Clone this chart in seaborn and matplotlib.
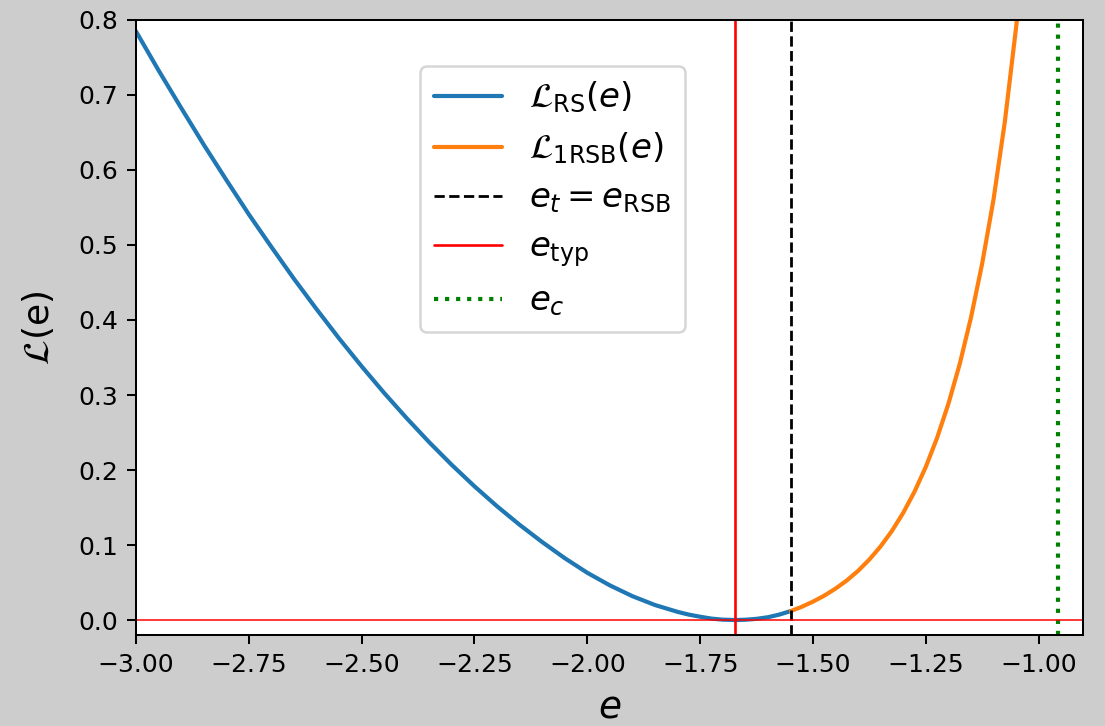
import numpy as np
import pandas as pd
import matplotlib
matplotlib.use("Agg")
import matplotlib.pyplot as plt
import seaborn as sns

# ---- data ----
e_rs = [-3.00, -2.95, -2.90, -2.85, -2.80, -2.75, -2.70, -2.65, -2.60, -2.55,
        -2.50, -2.45, -2.40, -2.35, -2.30, -2.25, -2.20, -2.15, -2.10, -2.05,
        -2.00, -1.95, -1.90, -1.85, -1.80, -1.775, -1.75, -1.725, -1.70, -1.673,
        -1.65, -1.625, -1.60, -1.575, -1.549]
L_rs = [0.785, 0.733, 0.683, 0.634, 0.587, 0.541, 0.4975, 0.455, 0.4146, 0.3755,
        0.3383, 0.3027, 0.269, 0.2369, 0.2067, 0.1783, 0.1517, 0.1270, 0.1040, 0.0825,
        0.0630, 0.0462, 0.0318, 0.0200, 0.0109, 0.0072, 0.0044, 0.0019, 0.0005, 0.0,
        0.0004, 0.0016, 0.0037, 0.0072, 0.0120]

e_1rsb = [-1.549, -1.525, -1.50, -1.475, -1.45, -1.425, -1.40, -1.375, -1.35, -1.325,
          -1.30, -1.275, -1.25, -1.225, -1.20, -1.175, -1.15, -1.125, -1.10, -1.075,
          -1.05, -1.04]
L_1rsb = [0.0120, 0.0176, 0.0245, 0.0325, 0.0419, 0.0528, 0.0656, 0.0807, 0.0983, 0.1189,
          0.1430, 0.1712, 0.2042, 0.2429, 0.2882, 0.3411, 0.4031, 0.4757, 0.5607, 0.6640,
          0.7900, 0.8450]

e_t = -1.549     # e_t = e_RSB
e_typ = -1.673
e_c = -0.958

labels = [r"$\mathcal{L}_{\mathrm{RS}}(e)$", r"$\mathcal{L}_{\mathrm{1RSB}}(e)$",
          r"$e_t = e_{\mathrm{RSB}}$", r"$e_{\mathrm{typ}}$", r"$e_c$"]
xticks = [-3.00, -2.75, -2.50, -2.25, -2.00, -1.75, -1.50, -1.25, -1.00]
yticks = [0.0, 0.1, 0.2, 0.3, 0.4, 0.5, 0.6, 0.7, 0.8]

# ---- styling ----
sns.set_style("ticks")
plt.rcParams.update({
    "font.family": ["DejaVu Sans"],
    "mathtext.fontset": "dejavusans",
    "text.color": "black",
    "axes.labelcolor": "black",
    "axes.linewidth": 1.45,
    "xtick.major.size": 6.3, "ytick.major.size": 6.3,
    "xtick.major.width": 1.45, "ytick.major.width": 1.45,
    "xtick.major.pad": 6.3, "ytick.major.pad": 6.3,
    "xtick.color": "black", "ytick.color": "black",
    "axes.edgecolor": "black",
})

fig = plt.figure(figsize=(11.05, 7.26), dpi=100, facecolor="#cdcdcd")
ax = fig.add_axes([0.123, 0.1253, 0.857, 0.8472])
ax.set_facecolor("white")

df_rs = pd.DataFrame({"e": e_rs, "L": L_rs})
df_1 = pd.DataFrame({"e": e_1rsb, "L": L_1rsb})

sns.lineplot(data=df_rs, x="e", y="L", ax=ax, color="#1f77b4", lw=3.0,
             label=labels[0], sort=False)
sns.lineplot(data=df_1, x="e", y="L", ax=ax, color="#ff7f0e", lw=3.0,
             label=labels[1], sort=False)
ax.axvline(e_t, color="black", ls="--", lw=2.0, label=labels[2])
ax.axvline(e_typ, color="red", lw=1.9, label=labels[3])
ax.axvline(e_c, color="green", ls=":", lw=3.0, label=labels[4])
ax.axhline(0.0, color="red", lw=1.1)

ax.set_xlim(-3.0, -0.902)
ax.set_ylim(-0.02, 0.8)
ax.set_xticks(xticks)
ax.set_yticks(yticks)
ax.set_xticklabels([f"{v:.2f}".replace("-", "\u2212") for v in xticks])
ax.set_yticklabels([f"{v:.1f}" for v in yticks])
ax.tick_params(labelsize=18, colors="black")
for s in ax.spines.values():
    s.set_visible(True)

ax.set_xlabel(r"$e$", fontsize=27, labelpad=9)
ax.set_ylabel(r"$\mathcal{L}$(e)", fontsize=26, labelpad=16)

leg = ax.legend(loc="upper left", bbox_to_anchor=(0.300, 0.925),
                borderaxespad=0, fontsize=24.5, framealpha=0.8,
                handlelength=2.0, labelspacing=0.45)
leg.get_frame().set_linewidth(1.8)

fig.savefig("out.png", dpi=100, facecolor=fig.get_facecolor())
